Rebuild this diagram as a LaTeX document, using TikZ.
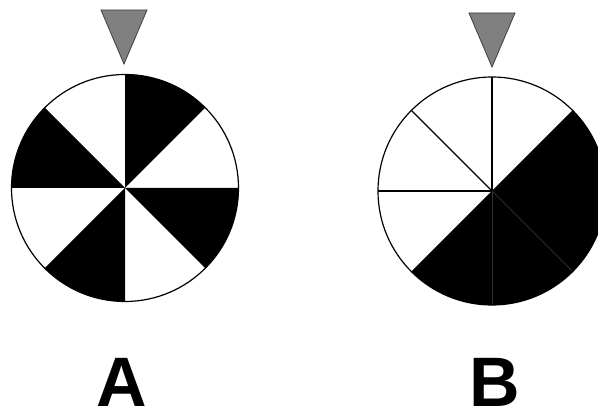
\documentclass[tikz,border=0pt]{standalone}
\usepackage{fontspec}
\setmainfont{Liberation Sans}
\usetikzlibrary{calc}
\tikzset{
  wedge/.style   = {fill=black},
  spoke/.style   = {draw=black, line width=1.3pt},
  rim/.style     = {draw=black, line width=1.2pt},
  pointer/.style = {draw=black!75, fill=black!50, line width=0.8pt, line join=miter},
  tag/.style     = {font=\fontsize{70}{84}\selectfont\bfseries, inner sep=0pt, anchor=base}
}

\begin{document}
\begin{tikzpicture}[x=1pt, y=1pt]

  % ── Page ─────────────────────────────────────────────────────────────────
  \clip (0,0) rectangle (598,412);
  \fill[white] (0,0) rectangle (598,412);

  % ── Wheel A: alternating sectors ─────────────────────────────────────────
  \coordinate (cA) at (125,224);
  \foreach \a in {45,-45,-135,135}
    \fill[wedge] (cA) -- ++(\a:113.5pt)
                 arc[start angle=\a, delta angle=45, radius=113.5pt] -- cycle;
  \draw[rim] (cA) circle[radius=113.5pt];

  % ── Wheel B: half black ──────────────────────────────────────────────────
  \coordinate (cB) at (492,221);
  \fill[wedge] (cB) -- ++(-135:114pt)
               arc[start angle=-135, end angle=45, radius=114pt] -- cycle;
  \foreach \a in {90,135,180}
    \draw[spoke] (cB) -- ++(\a:114pt);
  \foreach \a in {-45,-90}
    \draw[spoke, draw=black!80, line width=0.7pt] (cB) -- ++(\a:114pt);
  \draw[rim] (cB) circle[radius=114pt];

  % ── Pointers ─────────────────────────────────────────────────────────────
  \coordinate (pA) at (124,348);
  \coordinate (pB) at (492,345);
  \draw[pointer] (pA) -- ++(-23,54) -- ++(46,0) -- cycle;
  \draw[pointer] (pB) -- ++(-23,54) -- ++(46,0) -- cycle;

  % ── Labels ───────────────────────────────────────────────────────────────
  \node[tag] (labA) at (122,5) {A};
  \node[tag] (labB) at (495,5) {B};

\end{tikzpicture}
\end{document}
